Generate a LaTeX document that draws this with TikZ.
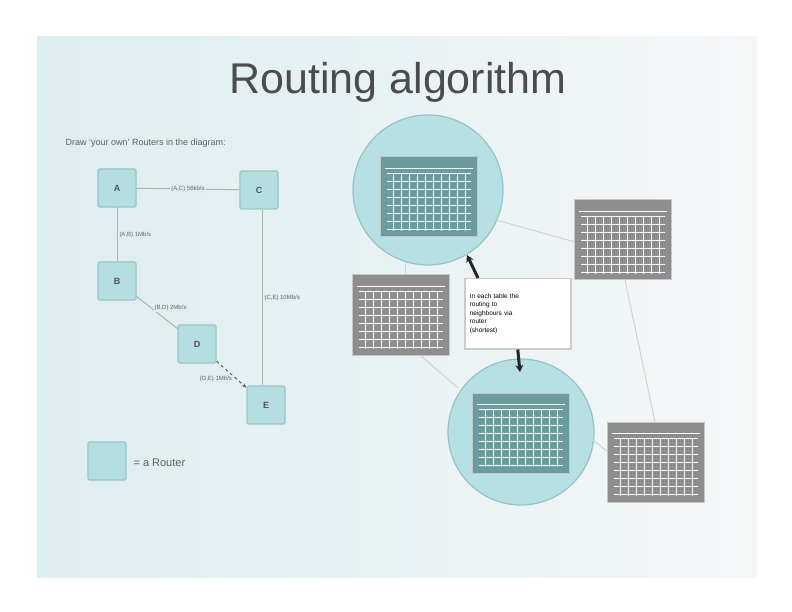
\documentclass[tikz,border=0pt]{standalone}
\usepackage{fontspec}
\setmainfont{Liberation Sans}
\usetikzlibrary{arrows.meta,shadings,calc}
\definecolor{slideL}{HTML}{DDEDF0}
\definecolor{slideR}{HTML}{F5F7F7}
\definecolor{router}{HTML}{B4DEDF}
\definecolor{routerB}{HTML}{9CC4C6}
\definecolor{circ}{HTML}{B6E0E3}
\definecolor{circB}{HTML}{97C3C5}
\definecolor{tabdark}{HTML}{6A9C9E}
\definecolor{tabgray}{HTML}{8E8E8E}
\tikzset{
  routerbox/.style={draw=routerB, fill=router, line width=1.2pt, rounded corners=1.5pt, minimum width=38pt, minimum height=38pt, inner sep=0pt, font=\fontsize{9}{10}\selectfont\bfseries, text=gray!65!black},
  elabel/.style={font=\fontsize{6}{7}\selectfont, text=gray!80!black, fill=slideL, inner sep=1pt},
  link/.style={draw=gray!60, line width=1pt},
  tabbox/.style={draw=gray!45, line width=1pt, minimum width=97pt, minimum height=80pt, inner sep=0pt},
  zoomcirc/.style={circle, draw=circB, fill=circ, line width=1.2pt, inner sep=0pt},
  netline/.style={draw=gray!35, line width=1pt},
  callarrow/.style={-{Stealth[length=7pt,width=8pt]}, line width=3pt, black!85}
}
\newcommand{\gtab}[4]{%
  \node[tabbox, fill=#4] (#1) at (#2,#3) {};
  \begin{scope}[shift={(#2,#3)}]
    \foreach \i in {-36,-28,...,36} \draw[white, line width=0.6pt] (\i,-24) -- (\i,34);
    \foreach \j in {-24,-16,...,34} \draw[white, line width=0.6pt] (-42,\j) -- (42,\j);
    \draw[white, line width=0.6pt] (-44,-29) -- (44,-29);
  \end{scope}}
\begin{document}
\begin{tikzpicture}[x=1pt,y=-1pt]
\useasboundingbox (0,0) rectangle (792,612);
\fill[white] (0,0) rectangle (792,612);
\shade[left color=slideL, right color=slideR] (37,37) rectangle (757,577);
% title
\node[font=\fontsize{43}{46}\selectfont, text=gray!60!black] (title) at (398,82) {Routing algorithm};
\node[anchor=west, font=\fontsize{9}{10}\selectfont, text=gray!75!black] (intro) at (62,143) {Draw ‘your own’ Routers in the diagram:};
% routers
\node[routerbox] (A) at (117,188) {A};
\node[routerbox] (C) at (259,190) {C};
\node[routerbox] (B) at (117,281) {B};
\node[routerbox] (D) at (197,344) {D};
\node[routerbox] (E) at (266,405) {E};
\draw[link] (A) -- node[elabel] {(A,C) 56kb/s} (C);
\draw[link] (A) -- node[elabel, right, xshift=1pt] {(A,B) 1Mb/s} (B);
\draw[link] (B) -- node[elabel, above right, xshift=-4pt] {(B,D) 2Mb/s} (D);
\draw[link] (C.south -| 262,0) -- node[elabel, right, xshift=1pt] {(C,E) 10Mb/s} (E.north -| 262,0);
\draw[link, dashed, -{Stealth[length=5pt]}, gray!70!black] (D) -- node[elabel, below left, xshift=2pt] {(D,E) 1Mb/s} (E);
% legend
\node[routerbox] (L) at (107,461) {};
\node[anchor=west, font=\fontsize{11}{12}\selectfont, text=gray!75!black] (Ltxt) at (130,463) {= a Router};
% right network
\node[zoomcirc, minimum size=150pt] (Z1) at (428,190) {};
\node[zoomcirc, minimum size=146pt] (Z2) at (521,432) {};
\draw[netline] (405,262) -- (405,275);
\draw[netline] (478,215) -- (575,242);
\draw[netline] (625,280) -- (655,422);
\draw[netline] (568,420) -- (608,452);
\draw[netline] (420,355) -- (458,388);
\gtab{T0}{429}{197}{tabdark}
\gtab{T4}{521}{433}{tabdark}
\gtab{T1}{623}{240}{tabgray}
\gtab{T2}{401}{315}{tabgray}
\gtab{T3}{656}{462}{tabgray}
% callout
\node[draw=gray!40, fill=white, line width=1.5pt, minimum width=106pt, minimum height=70pt, text width=96pt, align=left, font=\fontsize{6.5}{8.5}\selectfont, inner sep=5pt, anchor=north west] (call) at (464,278) {In each table the\\ routing to\\ neighbours via\\ router\\ (shortest)};
\coordinate (c1) at ($(call.north west)+(14,0)$);
\coordinate (c2) at (467,255);
\coordinate (c3) at (520,372);
\draw[callarrow] (c1) -- (c2);
\draw[callarrow] (call.south) -- (c3);
\end{tikzpicture}
\end{document}
